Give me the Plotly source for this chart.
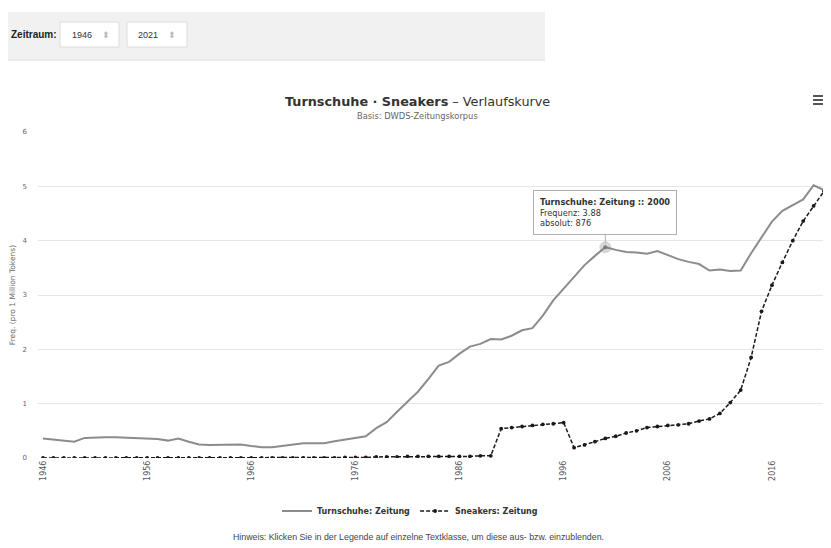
import plotly.graph_objects as go

OFF = 8  # page body margin of the html page
W, H = 831 - OFF, 548 - OFF
ML, MR, MT, MB = 38 - OFF, 5, 132 - OFF, 90
PW, PH = W - ML - MR, H - MT - MB

years = list(range(1946, 2022))

turnschuhe = [
    0.36, 0.34, 0.33, 0.30, 0.37, 0.38, 0.38, 0.38, 0.37, 0.37,   # 1946-1955
    0.35, 0.35, 0.32, 0.36, 0.30, 0.25, 0.24, 0.24, 0.24, 0.25,   # 1956-1965
    0.22, 0.20, 0.20, 0.22, 0.25, 0.27, 0.27, 0.27, 0.31, 0.34,   # 1966-1975
    0.38, 0.40, 0.55, 0.66, 0.85, 1.03, 1.22, 1.45, 1.70, 1.77,   # 1976-1985
    1.92, 2.05, 2.10, 2.19, 2.18, 2.25, 2.35, 2.39, 2.62, 2.90,   # 1986-1995
    3.12, 3.35, 3.55, 3.72, 3.88, 3.83, 3.79, 3.78, 3.76, 3.81,   # 1996-2005
    3.74, 3.66, 3.61, 3.57, 3.45, 3.47, 3.44, 3.45, 3.77, 4.06,   # 2006-2015
    4.35, 4.55, 4.65, 4.76, 5.02, 4.93                            # 2016-2021
]

sneakers = [
    0.00, 0.00, 0.00, 0.00, 0.00, 0.00, 0.00, 0.00, 0.00, 0.00,   # 1946-1955
    0.00, 0.00, 0.00, 0.00, 0.00, 0.00, 0.00, 0.00, 0.00, 0.00,   # 1956-1965
    0.00, 0.00, 0.00, 0.00, 0.00, 0.00, 0.00, 0.00, 0.00, 0.01,   # 1966-1975
    0.01, 0.01, 0.02, 0.02, 0.02, 0.03, 0.03, 0.03, 0.03, 0.03,   # 1976-1985
    0.03, 0.03, 0.04, 0.04, 0.54, 0.56, 0.58, 0.60, 0.62, 0.63,   # 1986-1995
    0.65, 0.19, 0.24, 0.30, 0.36, 0.40, 0.46, 0.50, 0.56, 0.58,   # 1996-2005
    0.60, 0.61, 0.63, 0.68, 0.72, 0.82, 1.02, 1.25, 1.85, 2.70,   # 2006-2015
    3.18, 3.60, 4.00, 4.36, 4.64, 4.91                            # 2016-2021
]

tick_years = list(range(1946, 2022, 10))
y_ticks = [0, 1, 2, 3, 4, 5, 6]

tooltip_year = 2000
tooltip_abs = 876

title_main = "Turnschuhe · Sneakers"
title_rest = " – Verlaufskurve"
subtitle = "Basis: DWDS-Zeitungskorpus"
y_title = "Freq. (pro 1 Million Tokens)"
footnote = "Hinweis: Klicken Sie in der Legende auf einzelne Textklasse, um diese aus- bzw. einzublenden."
range_from, range_to = "1946", "2021"


def px(x):
    return (x - OFF - ML) / PW


def py(y):
    return (H - MB - (y - OFF)) / PH


fig = go.Figure()

fig.add_trace(go.Scatter(
    x=years, y=turnschuhe, name="<b>Turnschuhe: Zeitung</b>", mode="lines",
    line=dict(color="#8c8c8c", width=2),
    hoverinfo="skip",
))
fig.add_trace(go.Scatter(
    x=years, y=sneakers, name="<b>Sneakers: Zeitung</b>", mode="lines+markers",
    line=dict(color="#1a1a1a", width=1.5, dash="4px,2px"),
    marker=dict(color="#1a1a1a", size=3.8),
    hoverinfo="skip",
))

idx = years.index(tooltip_year)
fig.add_trace(go.Scatter(
    x=[years[idx]], y=[turnschuhe[idx]], mode="markers", showlegend=False,
    marker=dict(color="rgba(140,140,140,0.35)", size=12), hoverinfo="skip",
))
fig.add_trace(go.Scatter(
    x=[years[idx]], y=[turnschuhe[idx]], mode="markers", showlegend=False,
    marker=dict(color="#7a7a7a", size=4), hoverinfo="skip",
))

shapes = []
# control panel at top
shapes.append(dict(type="rect", xref="paper", yref="paper",
                   x0=px(8), x1=px(545), y0=py(60), y1=py(12),
                   fillcolor="#f1f1f1", line=dict(width=0), layer="below"))
shapes.append(dict(type="line", xref="paper", yref="paper",
                   x0=px(8), x1=px(545), y0=py(60), y1=py(60),
                   line=dict(color="#e4e4e4", width=1.5)))
for bx0, bx1 in [(60, 119), (127, 187)]:
    shapes.append(dict(type="rect", xref="paper", yref="paper",
                       x0=px(bx0), x1=px(bx1), y0=py(47), y1=py(22),
                       fillcolor="#ffffff", line=dict(color="#dcdcdc", width=1)))
# menu icon
for yy in [96, 100, 104]:
    shapes.append(dict(type="line", xref="paper", yref="paper",
                       x0=px(813), x1=px(825), y0=py(yy), y1=py(yy),
                       line=dict(color="#555555", width=2)))

annotations = [
    dict(text="<b>" + title_main + "</b>" + title_rest, xref="paper", yref="paper",
         x=px(417), y=py(101), showarrow=False, xanchor="center", yanchor="middle",
         font=dict(family="DejaVu Sans", size=12.8, color="#333333")),
    dict(text=subtitle, xref="paper", yref="paper",
         x=px(417), y=py(116), showarrow=False, xanchor="center", yanchor="middle",
         font=dict(family="DejaVu Sans", size=8.3, color="#666666")),
    dict(text=footnote, xref="paper", yref="paper",
         x=px(418), y=py(537), showarrow=False, xanchor="center", yanchor="middle",
         font=dict(family="Liberation Sans", size=8.8, color="#444444")),
    dict(text="<b>Zeitraum:</b>", xref="paper", yref="paper",
         x=px(9), y=py(35), showarrow=False, xanchor="left", yanchor="middle",
         font=dict(family="Liberation Sans", size=10, color="#222222")),
    dict(text=range_from, xref="paper", yref="paper",
         x=px(70), y=py(35), showarrow=False, xanchor="left", yanchor="middle",
         font=dict(family="Liberation Sans", size=9, color="#333333")),
    dict(text=range_to, xref="paper", yref="paper",
         x=px(136), y=py(35), showarrow=False, xanchor="left", yanchor="middle",
         font=dict(family="Liberation Sans", size=9, color="#333333")),
    dict(text="⬍", xref="paper", yref="paper",
         x=px(106), y=py(35), showarrow=False, xanchor="center", yanchor="middle",
         font=dict(family="DejaVu Sans", size=9, color="#bbbbbb")),
    dict(text="⬍", xref="paper", yref="paper",
         x=px(172), y=py(35), showarrow=False, xanchor="center", yanchor="middle",
         font=dict(family="DejaVu Sans", size=9, color="#bbbbbb")),
    dict(text="<b>Turnschuhe: Zeitung :: %d</b><br>Frequenz: %.2f<br>absolut: %d"
              % (years[idx], turnschuhe[idx], tooltip_abs),
         x=years[idx], y=turnschuhe[idx], xref="x", yref="y",
         showarrow=True, arrowhead=0, arrowwidth=1, arrowcolor="#b0b0b0",
         ax=0, ay=-35, standoff=4, align="left",
         bgcolor="rgba(255,255,255,0.96)", bordercolor="#b0b0b0", borderwidth=1,
         borderpad=6,
         font=dict(family="DejaVu Sans", size=8.2, color="#333333")),
]

fig.update_layout(
    width=W, height=H,
    margin=dict(l=ML, r=MR, t=MT, b=MB, autoexpand=False),
    paper_bgcolor="#ffffff", plot_bgcolor="#ffffff",
    shapes=shapes, annotations=annotations,
    showlegend=True,
    legend=dict(orientation="h", x=px(410), y=py(511), xanchor="center", yanchor="middle",
                font=dict(family="DejaVu Sans", size=8, color="#333333"),
                itemwidth=30, bgcolor="rgba(0,0,0,0)",
                traceorder="normal"),
    xaxis=dict(
        range=[1945.52, 2021.19], tickmode="array", tickvals=tick_years,
        ticktext=[str(t) for t in tick_years], tickangle=-90,
        showgrid=False, zeroline=False, showline=False,
        ticks="", ticklen=0,
        tickfont=dict(family="DejaVu Sans", size=8, color="#555555"),
    ),
    yaxis=dict(
        range=[0, 6], tickmode="array", tickvals=y_ticks,
        showgrid=True, gridcolor="#e6e6e6", gridwidth=1,
        zeroline=False, showline=False, ticks="",
        ticklabelstandoff=10,
        tickfont=dict(family="DejaVu Sans", size=7, color="#666666"),
        title=dict(text=y_title, standoff=6,
                   font=dict(family="DejaVu Sans", size=7.5, color="#666666")),
    ),
)

fig.write_html("out.html")
